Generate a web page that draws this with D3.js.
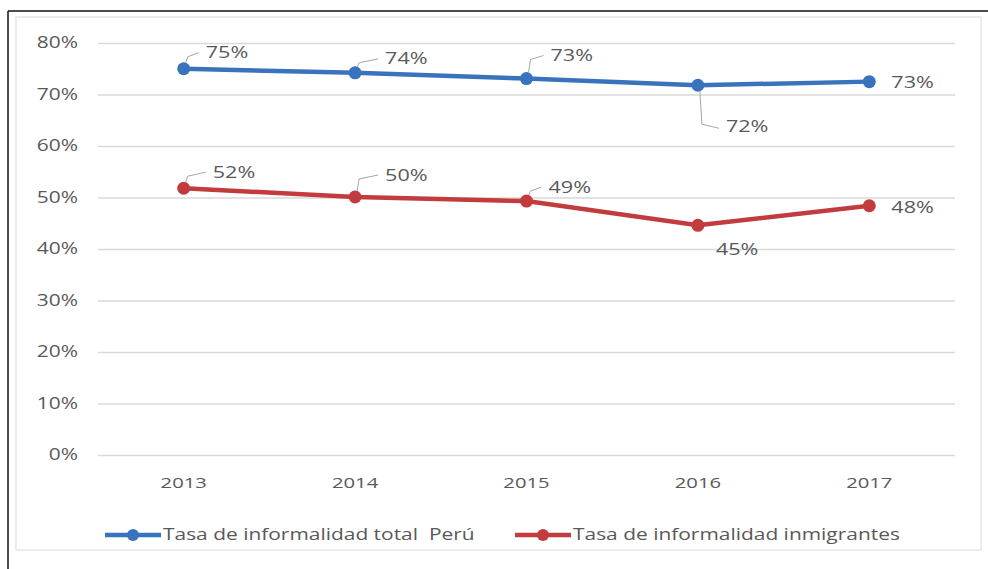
<!DOCTYPE html>
<html>
<head>
<meta charset="utf-8">
<script src="https://cdn.jsdelivr.net/npm/d3@7"></script>
<style>
  body { margin: 0; background: #fff; }
  text { font-family: "Open Sans", sans-serif; fill: #595959; white-space: pre; }
</style>
</head>
<body>
<svg id="chart" width="988" height="569"></svg>
<script>
// data
var years = ["2013", "2014", "2015", "2016", "2017"];
var totalPeru = [75.0, 74.2, 73.1, 71.8, 72.5];
var inmigrantes = [51.8, 50.1, 49.3, 44.6, 48.4];
var totalLabels = ["75%", "74%", "73%", "72%", "73%"];
var inmigLabels = ["52%", "50%", "49%", "45%", "48%"];
var yTicks = [0, 10, 20, 30, 40, 50, 60, 70, 80];
var seriesNames = ["Tasa de informalidad total  Perú", "Tasa de informalidad inmigrantes"];

// label offsets from the point [dx, dy, leader?]
var totalOffsets = [[22, -16, 1], [30, -14, 1], [24, -23, 1], [28, 41, 1], [22, 1, 0]];
var inmigOffsets = [[29, -16, 1], [30, -22, 1], [22, -14, 1], [18, 24, 0], [22, 2, 0]];

var svg = d3.select("#chart");
var margin = {left: 98, right: 33, top: 43, bottom: 114};
var W = 988, H = 569;
var STRETCH = 1.35;

// the source text is wide (scanned Calibri), stretch glyphs horizontally
function stretch(sel) {
  sel.each(function(){
    var t = d3.select(this);
    var tx = +t.attr("x") || 0, ty = +t.attr("y") || 0;
    t.attr("x", 0).attr("y", 0)
      .attr("transform", "translate(" + tx + "," + ty + ") scale(" + STRETCH + ",1)");
  });
}

// frame
svg.append("line").attr("x1", 8).attr("x2", 988).attr("y1", 11).attr("y2", 11)
  .attr("stroke", "#111").attr("stroke-width", 1.5);
svg.append("line").attr("x1", 8).attr("x2", 8).attr("y1", 11).attr("y2", 569)
  .attr("stroke", "#111").attr("stroke-width", 1.5);
svg.append("rect").attr("x", 16).attr("y", 17).attr("width", 965).attr("height", 533)
  .attr("fill", "none").attr("stroke", "#e6e6e6").attr("stroke-width", 1.5);

var x = d3.scaleBand().domain(years).range([margin.left, W - margin.right]);
var y = d3.scaleLinear().domain([0, 80]).range([H - margin.bottom, margin.top]);

// grid
var yAxis = d3.axisLeft(y).tickValues(yTicks).tickFormat(function(d){ return d + "%"; })
  .tickSize(-(W - margin.right - margin.left)).tickPadding(20);
var gy = svg.append("g").attr("transform", "translate(" + margin.left + ",0)").call(yAxis);
gy.select(".domain").remove();
gy.selectAll("line").attr("stroke", "#d9d9d9").attr("stroke-width", 1.5);
gy.selectAll("text").style("font-size", "15.5px").attr("fill", "#595959").call(stretch);

var xAxis = d3.axisBottom(x).tickSize(0).tickPadding(22);
var gx = svg.append("g").attr("transform", "translate(0," + y(0) + ")").call(xAxis);
gx.select(".domain").remove();
gx.selectAll("text").style("font-size", "15px").attr("fill", "#595959").call(stretch);

var cx = function(d, i){ return x(years[i]) + x.bandwidth() / 2; };
var line = d3.line().x(cx).y(function(d){ return y(d); });

var series = [
  {values: totalPeru, labels: totalLabels, offsets: totalOffsets, color: "#3a73bd"},
  {values: inmigrantes, labels: inmigLabels, offsets: inmigOffsets, color: "#c23b3d"}
];

series.forEach(function(s){
  svg.append("path").datum(s.values).attr("d", line)
    .attr("fill", "none").attr("stroke", s.color).attr("stroke-width", 4.5);
  svg.selectAll(null).data(s.values).enter().append("circle")
    .attr("cx", cx).attr("cy", function(d){ return y(d); })
    .attr("r", 6.5).attr("fill", s.color);
  s.values.forEach(function(v, i){
    var px = cx(v, i), py = y(v), o = s.offsets[i];
    var lx = px + o[0], ly = py + o[1];
    if (o[2]) {
      var up = o[1] < 0;
      var ex = lx - 7;
      svg.append("path")
        .attr("d", "M" + (px + 2) + "," + (py + (up ? -6 : 6)) + "L" + (px + 4) + "," + (ly + (up ? 4 : -2)) +
          "L" + ex + "," + (ly + (up ? 0 : 2)))
        .attr("fill", "none").attr("stroke", "#a6a6a6").attr("stroke-width", 1);
    }
    svg.append("text").attr("x", lx).attr("y", ly).attr("dy", "0.35em")
      .style("font-size", "16px").text(s.labels[i]).call(stretch);
  });
});

// legend
var legendX = [105, 515];
series.forEach(function(s, i){
  var g = svg.append("g").attr("transform", "translate(" + legendX[i] + ",535)");
  g.append("line").attr("x1", 0).attr("x2", 56).attr("stroke", s.color).attr("stroke-width", 4.5);
  g.append("circle").attr("cx", 28).attr("r", 6).attr("fill", s.color);
  g.append("text").attr("x", 58).attr("dy", "0.35em").style("font-size", "15.5px")
    .text(seriesNames[i]).call(stretch);
});
</script>
</body>
</html>
